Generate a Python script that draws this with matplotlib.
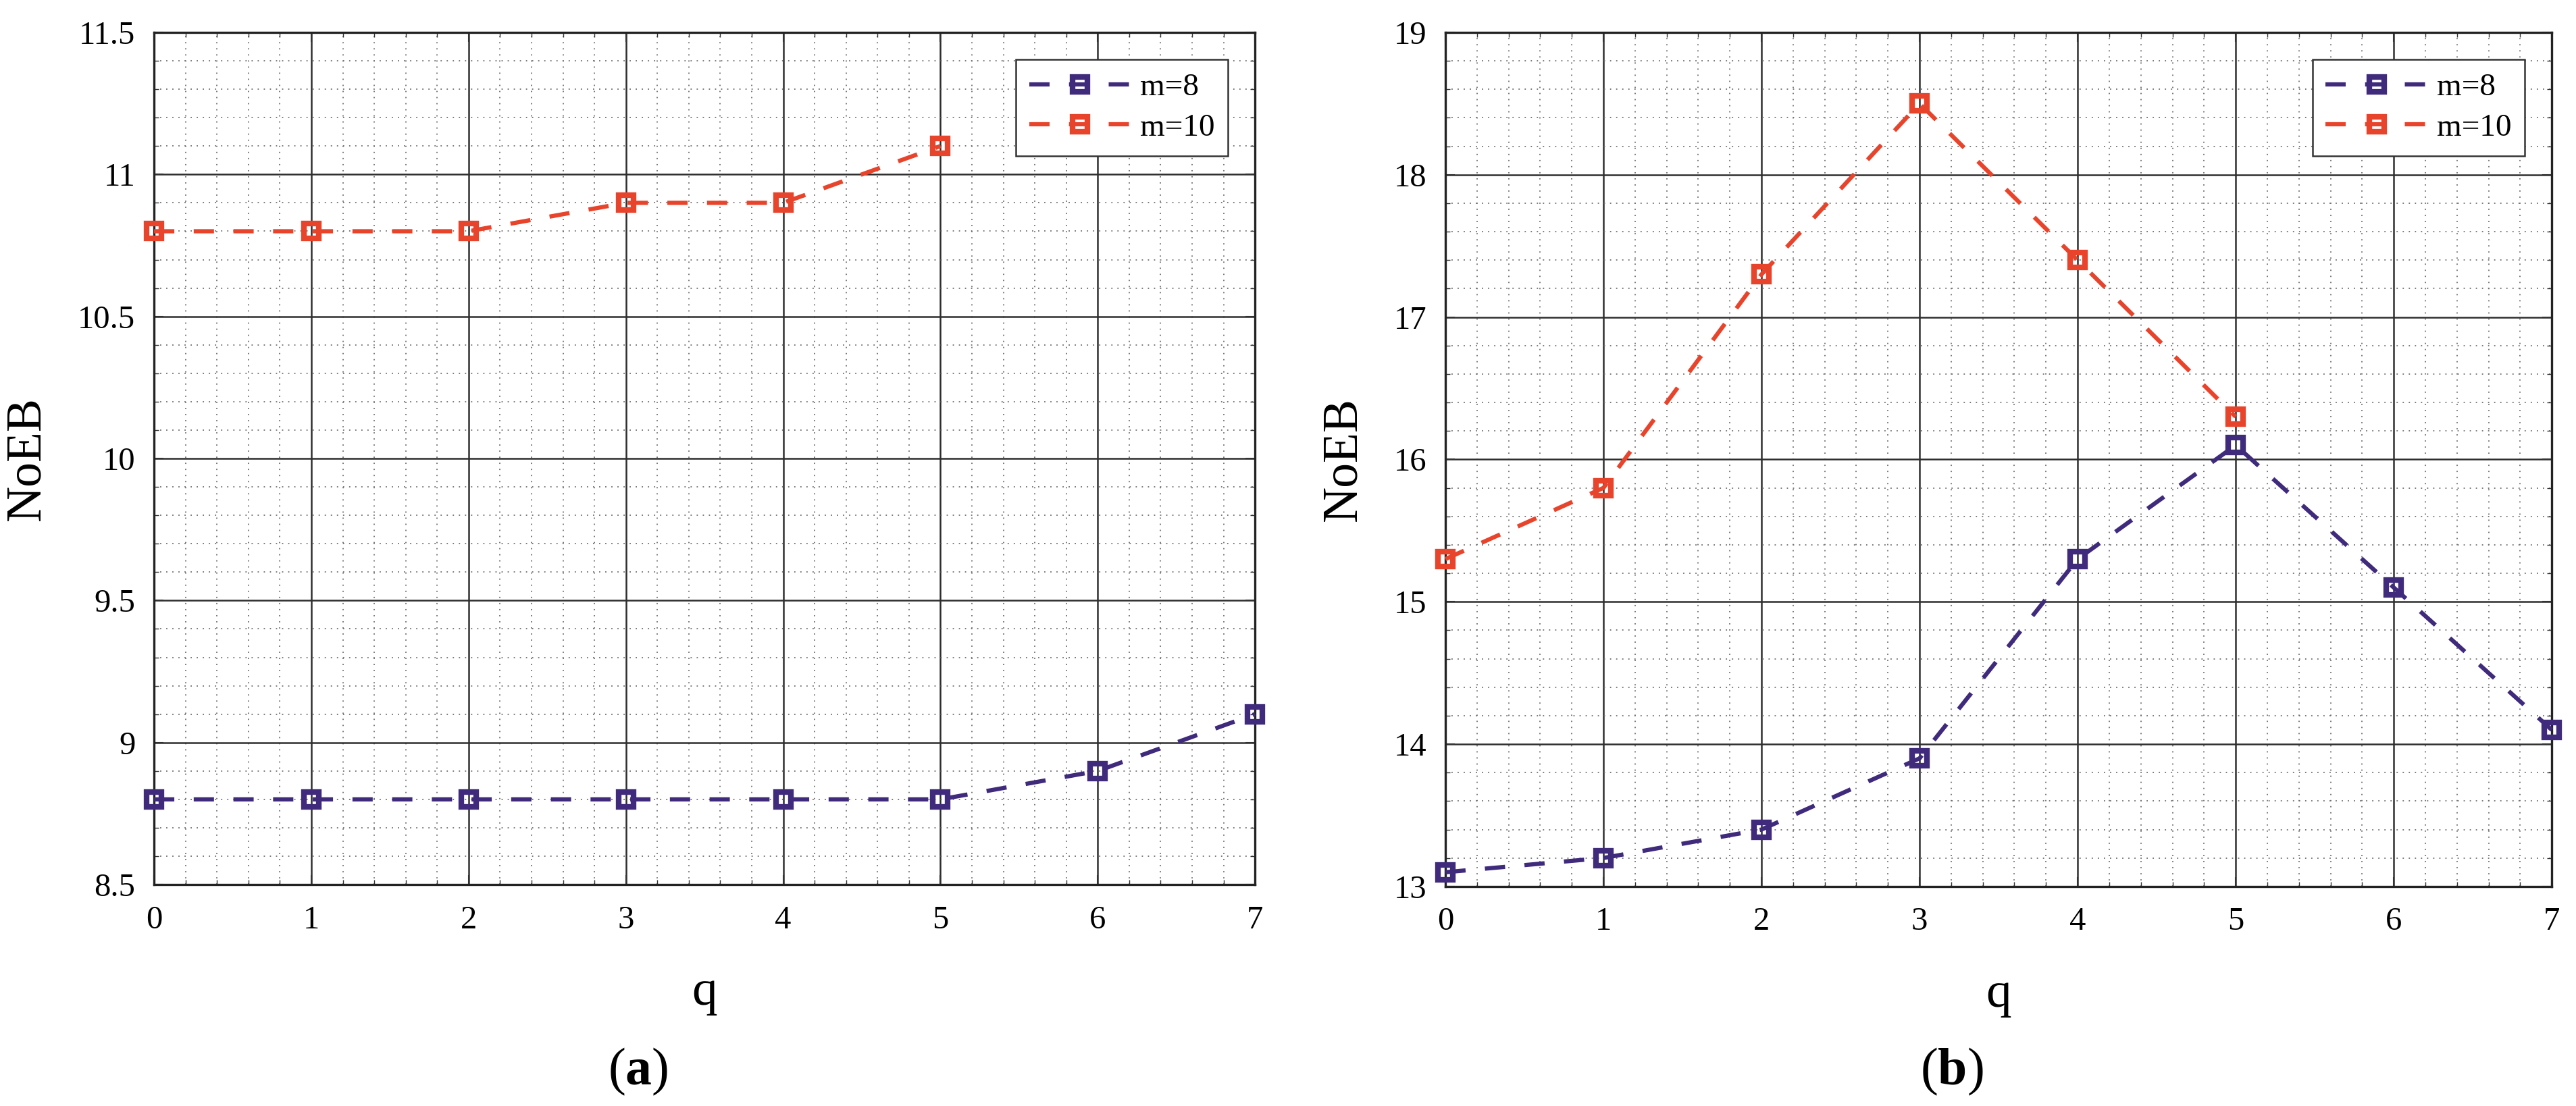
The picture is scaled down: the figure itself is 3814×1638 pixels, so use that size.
import matplotlib
matplotlib.use("Agg")
import matplotlib.pyplot as plt
from matplotlib.ticker import MultipleLocator, FuncFormatter

# --- data ---
q_m8 = [0, 1, 2, 3, 4, 5, 6, 7]
q_m10 = [0, 1, 2, 3, 4, 5]

noeb_a_m8 = [8.8, 8.8, 8.8, 8.8, 8.8, 8.8, 8.9, 9.1]
noeb_a_m10 = [10.8, 10.8, 10.8, 10.9, 10.9, 11.1]

noeb_b_m8 = [13.1, 13.2, 13.4, 13.9, 15.3, 16.1, 15.1, 14.1]
noeb_b_m10 = [15.3, 15.8, 17.3, 18.5, 17.4, 16.3]

labels = ["m=8", "m=10"]

PURPLE = "#3f2a7c"
RED = "#e8442c"

plt.rcParams["font.family"] = ["Liberation Serif", "DejaVu Serif"]
plt.rcParams["mathtext.fontset"] = "custom"
plt.rcParams["mathtext.rm"] = "Liberation Serif"
plt.rcParams["mathtext.bf"] = "Liberation Serif:bold"

fig = plt.figure(figsize=(38.14, 16.38), dpi=100)
ax_a = fig.add_axes([0.0598, 0.2002, 0.4274, 0.7705])
ax_b = fig.add_axes([0.5611, 0.1985, 0.4295, 0.7722])


def style_axes(ax, ylim, ymajor, label_x):
    ax.set_xlim(0, 7)
    ax.set_ylim(*ylim)
    ax.xaxis.set_major_locator(MultipleLocator(1))
    ax.xaxis.set_minor_locator(MultipleLocator(0.2))
    ax.yaxis.set_major_locator(MultipleLocator(ymajor))
    ax.yaxis.set_minor_locator(MultipleLocator(ymajor / 5))
    ax.yaxis.set_major_formatter(FuncFormatter(lambda v, p: f"{v:g}"))
    ax.grid(which="major", color="#2e2e2e", linewidth=1.8, linestyle="-")
    ax.grid(which="minor", color="#6e6e6e", linewidth=1.3, linestyle=(0, (1, 4)))
    ax.set_axisbelow(True)
    ax.tick_params(which="both", direction="in", top=True, right=True,
                   color="#333333")
    ax.tick_params(which="major", length=10, width=1.5, labelsize=35, pad=22)
    ax.tick_params(which="minor", length=5, width=1.0)
    ax.tick_params(axis="y", which="major", pad=20)
    for s in ax.spines.values():
        s.set_linewidth(2.4)
        s.set_color("#222222")
    ax.set_xlabel("q", fontsize=54)
    ax.set_ylabel("NoEB", fontsize=53)
    ax.xaxis.set_label_coords(0.5, -0.10)
    ax.yaxis.set_label_coords(label_x, 0.5)


line_kw = dict(linewidth=4.5, linestyle=(0, (4.8, 4.6)), marker="s",
               markersize=16, markeredgewidth=6, markerfacecolor="none",
               clip_on=False, zorder=3)

for ax, y8, y10, ylim, ymaj, lx in [
    (ax_a, noeb_a_m8, noeb_a_m10, (8.5, 11.5), 0.5, -0.094),
    (ax_b, noeb_b_m8, noeb_b_m10, (13, 19), 1, -0.071),
]:
    ax.plot(q_m8, y8, color=PURPLE, label=labels[0], **line_kw)
    ax.plot(q_m10, y10, color=RED, label=labels[1], **line_kw)
    style_axes(ax, ylim, ymaj, lx)
    leg = ax.legend(loc="upper right", bbox_to_anchor=(0.9755, 0.968),
                    borderaxespad=0, fontsize=34, frameon=True, fancybox=False,
                    edgecolor="#333333", framealpha=1, handlelength=3.2,
                    handletextpad=0.28, labelspacing=0.35, borderpad=0.42)
    leg.get_frame().set_linewidth(1.8)

fig.text(0.2478, 0.031, r"($\mathbf{a}$)", fontsize=56, ha="center", va="center")
fig.text(0.7577, 0.031, r"($\mathbf{b}$)", fontsize=56, ha="center", va="center")

fig.savefig("out.png", dpi=100)
